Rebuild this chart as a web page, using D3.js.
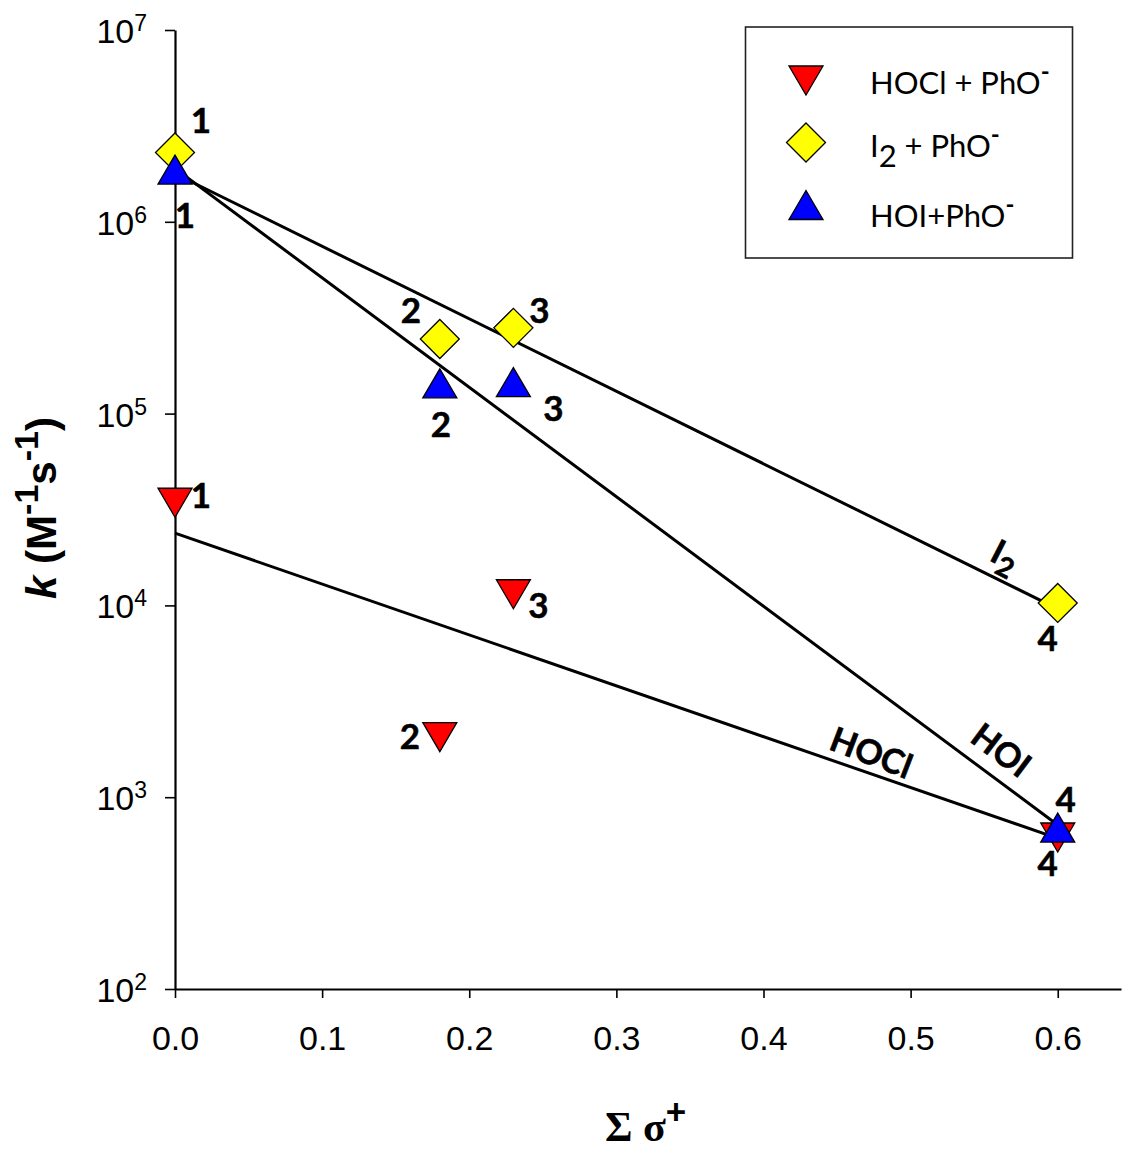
<!DOCTYPE html>
<html>
<head>
<meta charset="utf-8">
<script src="https://cdn.jsdelivr.net/npm/d3@7"></script>
<style>
  html, body { margin: 0; padding: 0; background: #fff; }
  svg { display: block; }
</style>
</head>
<body>
<svg id="chart" width="1122" height="1151"></svg>
<script>
// Substituent constants (sum of sigma+) for phenolates 1-4
const sigmaPlus = [0, 0.18, 0.23, 0.6];
const compoundIds = ["1", "2", "3", "4"];

// Second-order rate constants, M^-1 s^-1
const kHOCl = [3.45e4, 2.07e3, 1.15e4, 620];
const kI2   = [2.3e6, 2.45e5, 2.8e5, 1.03e4];
const kHOI  = [1.86e6, 1.43e5, 1.45e5, 690];

// Hammett fit lines (end points at sigma+ = 0 and 0.6)
const fitSigma = [0, 0.6];
const fitHOCl = [2.38e4, 610];
const fitI2   = [1.78e6, 9.6e3];
const fitHOI  = [1.9e6, 716];

// Axis ticks
const xTicks = [0, 0.1, 0.2, 0.3, 0.4, 0.5, 0.6];
const yTickExponents = [2, 3, 4, 5, 6, 7];

const svg = d3.select("#chart");

const x = d3.scaleLinear().domain([0, 0.643]).range([175, 1121]);
const y = d3.scaleLog().domain([1e2, 1e7]).range([989, 30]);

// ---- axes ----
const xAxis = d3.axisBottom(x)
  .tickValues(xTicks)
  .tickSize(9)
  .tickSizeOuter(0)
  .tickFormat(d3.format(".1f"));

const gx = svg.append("g")
  .attr("transform", `translate(0,${y(1e2)})`)
  .call(xAxis);
gx.select(".domain").attr("stroke", "#000").attr("stroke-width", 2.2);
gx.selectAll(".tick line").attr("stroke", "#000").attr("stroke-width", 1.6);
gx.selectAll(".tick text")
  .attr("y", 61).attr("dy", null)
  .attr("font-family", "'Liberation Sans', Arial, sans-serif")
  .attr("font-size", 34)
  .attr("fill", "#000");

const yAxis = d3.axisLeft(y)
  .tickValues(yTickExponents.map(e => Math.pow(10, e)))
  .tickSize(10)
  .tickSizeOuter(0)
  .tickFormat("");

const gy = svg.append("g")
  .attr("transform", `translate(${x(0)},0)`)
  .call(yAxis);
gy.select(".domain").attr("stroke", "#000").attr("stroke-width", 2.2);
gy.selectAll(".tick line").attr("stroke", "#000").attr("stroke-width", 1.6);

// power-of-ten labels with superscript exponent
const yLabels = svg.append("g")
  .attr("font-family", "'Liberation Sans', Arial, sans-serif")
  .attr("fill", "#000");
yTickExponents.forEach(e => {
  const t = yLabels.append("text")
    .attr("x", 147)
    .attr("y", y(Math.pow(10, e)) + 13)
    .attr("text-anchor", "end")
    .attr("font-size", 34);
  t.append("tspan").text("10");
  t.append("tspan").attr("font-size", 23).attr("dy", -12).text(String(e));
});

// ---- axis titles ----
const xTitle = svg.append("text")
  .attr("x", 605)
  .attr("y", 1141)
  .attr("font-family", "'Liberation Serif', 'Times New Roman', serif")
  .attr("font-weight", "bold")
  .attr("font-size", 42)
  .attr("fill", "#000");
xTitle.append("tspan").text("Σ σ");
xTitle.append("tspan")
  .attr("font-family", "'Liberation Sans', Arial, sans-serif")
  .attr("font-size", 35).attr("dy", -17).text("+");

const yTitle = svg.append("text")
  .attr("transform", "translate(56,508) rotate(-90)")
  .attr("text-anchor", "middle")
  .attr("font-family", "'Liberation Sans', Arial, sans-serif")
  .attr("font-weight", "bold")
  .attr("font-size", 42)
  .attr("fill", "#000");
yTitle.append("tspan").attr("font-style", "italic").text("k");
yTitle.append("tspan").text(" (M");
yTitle.append("tspan").attr("font-size", 34).attr("dy", -18).text("-1");
yTitle.append("tspan").attr("dy", 18).text("s");
yTitle.append("tspan").attr("font-size", 34).attr("dy", -18).text("-1");
yTitle.append("tspan").attr("dy", 18).text(")");

// ---- fit lines ----
const line = d3.line().x(d => x(d[0])).y(d => y(d[1]));
const fits = [fitHOCl, fitHOI, fitI2];
svg.append("g")
  .selectAll("path")
  .data(fits)
  .join("path")
  .attr("d", f => line(fitSigma.map((s, i) => [s, f[i]])))
  .attr("fill", "none")
  .attr("stroke", "#000")
  .attr("stroke-width", 3);

// ---- line labels ----
const lineLabelFont = "Lato, 'Open Sans', sans-serif";
function lineLabel(cx, cy, angle) {
  return svg.append("text")
    .attr("transform", `translate(${cx},${cy}) rotate(${angle})`)
    .attr("text-anchor", "middle")
    .attr("font-family", lineLabelFont)
    .attr("font-weight", "bold")
    .attr("font-size", 34)
    .attr("stroke", "#000")
    .attr("stroke-width", 0.6)
    .attr("fill", "#000");
}
const i2Label = lineLabel(1000, 566, 27);
i2Label.append("tspan").text("I");
i2Label.append("tspan").attr("dy", 9).attr("font-size", 28).text("2");
lineLabel(994, 760, 37).text("HOI");
lineLabel(867, 764, 21).text("HOCl");

// ---- markers ----
const triDown = "M-17,-14L17,-14L0,15Z";
const triUp = "M0,-15L17,14L-17,14Z";
const diamond = "M0,-19.5L19.5,0L0,19.5L-19.5,0Z";

const series = [
  { name: "HOCl", values: kHOCl, shape: triDown, fill: "#ff0000" },
  { name: "I2",   values: kI2,   shape: diamond, fill: "#ffff00" },
  { name: "HOI",  values: kHOI,  shape: triUp,   fill: "#0000ff" }
];

series.forEach(s => {
  svg.append("g")
    .selectAll("path")
    .data(s.values)
    .join("path")
    .attr("d", s.shape)
    .attr("transform", (v, i) => `translate(${x(sigmaPlus[i])},${y(v)})`)
    .attr("fill", s.fill)
    .attr("stroke", "#000")
    .attr("stroke-width", 1.3);
});

// ---- compound numbers next to points ----
// offsets in pixels relative to each marker
const labelOffsets = {
  HOCl: [[26, 6], [-30, 12], [25, 24], [-10, 39]],
  I2:   [[26, -19], [-29, -16], [26, -5], [-10, 48]],
  HOI:  [[10, 58], [1, 53], [40, 38], [8, -16]]
};
const numLabels = svg.append("g")
  .attr("font-family", lineLabelFont)
  .attr("font-weight", "bold")
  .attr("font-size", 35)
  .attr("stroke", "#000")
  .attr("stroke-width", 0.5)
  .attr("fill", "#000")
  .attr("text-anchor", "middle");
series.forEach(s => {
  s.values.forEach((v, i) => {
    const off = labelOffsets[s.name][i];
    numLabels.append("text")
      .attr("x", x(sigmaPlus[i]) + off[0])
      .attr("y", y(v) + off[1])
      .text(compoundIds[i]);
  });
});

// ---- legend ----
const legend = svg.append("g");
legend.append("rect")
  .attr("x", 745.5).attr("y", 27)
  .attr("width", 327).attr("height", 231)
  .attr("fill", "#fff")
  .attr("stroke", "#222")
  .attr("stroke-width", 1.6);

const legendRows = [
  { shape: triDown, fill: "#ff0000", my: 80, ty: 94, parts: [["HOCl + PhO", 0], ["-", 1]] },
  { shape: diamond, fill: "#ffff00", my: 142.5, ty: 157, parts: [["I", 0], ["2", 2], [" + PhO", 3], ["-", 1]] },
  { shape: triUp,   fill: "#0000ff", my: 205.5, ty: 227, parts: [["HOI+PhO", 0], ["-", 1]] }
];
legendRows.forEach(r => {
  legend.append("path")
    .attr("d", r.shape)
    .attr("transform", `translate(806,${r.my})`)
    .attr("fill", r.fill)
    .attr("stroke", "#000")
    .attr("stroke-width", 1.3);
  const t = legend.append("text")
    .attr("x", 870).attr("y", r.ty)
    .attr("font-family", lineLabelFont)
    .attr("font-size", 31)
    .attr("fill", "#000");
  r.parts.forEach(([txt, kind]) => {
    const sp = t.append("tspan").text(txt);
    if (kind === 1) sp.attr("font-size", 24).attr("font-weight", "bold").attr("dy", -14);  // superscript
    if (kind === 2) sp.attr("font-size", 31).attr("dy", 10);                                // subscript
    if (kind === 3) sp.attr("dy", -10);                                                     // back to baseline
  });
});
</script>
</body>
</html>
